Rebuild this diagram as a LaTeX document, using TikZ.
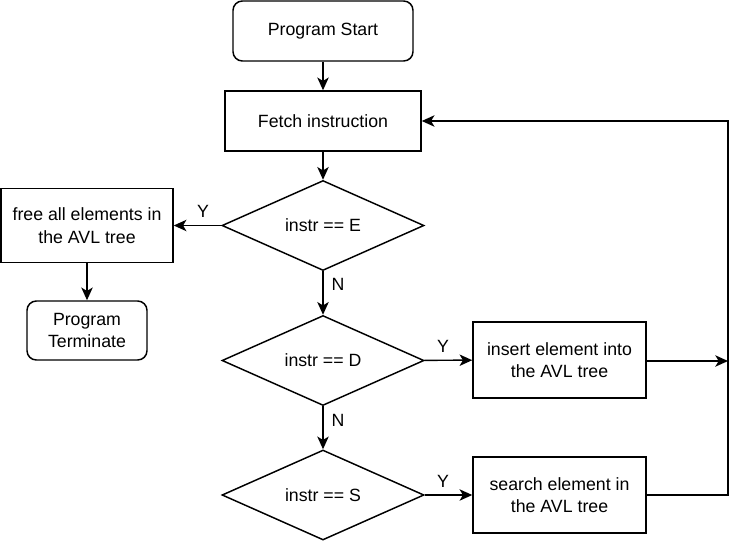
\documentclass[tikz,border=0pt]{standalone}
\usepackage{fontspec}
\setmainfont{Liberation Sans}
\usetikzlibrary{shapes.geometric,arrows.meta}
\tikzset{
  every node/.style={font=\fontsize{13.3pt}{16.8pt}\selectfont, inner sep=0pt},
  base/.style={draw=black, line width=1.1pt, align=center, fill=white},
  term/.style={base, rectangle, rounded corners=7pt},
  proc/.style={base, rectangle},
  dec/.style={base, diamond, shape aspect=2.244},
  lbl/.style={},
  conn/.style={line width=1.1pt, -{Stealth[length=9.5pt,width=8.5pt,inset=2.5pt]}},
  wire/.style={line width=1.1pt}
}
\begin{document}
\begin{tikzpicture}[x=0.75pt,y=-0.75pt]
\useasboundingbox (0,0) rectangle (741,543);
\node[term, minimum width=135pt, minimum height=45pt] (start) at (323,31) {Program Start};
\node[proc, minimum width=147pt, minimum height=45pt] (fetch) at (323,121) {Fetch instruction};
\node[dec, minimum width=151.5pt, minimum height=67.5pt] (dE) at (323,225.5) {instr == E};
\node[proc, minimum width=129pt, minimum height=55.5pt] (free) at (87,225.5) {free all elements in\\the AVL tree};
\node[term, minimum width=90pt, minimum height=44.25pt] (termi) at (87,330.5) {Program\\Terminate};
\node[dec, minimum width=151.5pt, minimum height=67.5pt] (dD) at (323,360.5) {instr == D};
\node[proc, minimum width=129.75pt, minimum height=57pt] (ins) at (559.5,360) {insert element into\\the AVL tree};
\node[dec, minimum width=151.5pt, minimum height=67.5pt] (dS) at (323,495) {instr == S};
\node[proc, minimum width=129.75pt, minimum height=57pt] (srch) at (559.5,495) {search element in\\the AVL tree};
\coordinate (rb) at (728,495);
\coordinate (rt) at (728,121);
\coordinate (rm) at (728,361);
\draw[conn] (start) -- (fetch);
\draw[conn] (fetch) -- (dE);
\draw[conn] (dE) -- (free);
\draw[conn] (free) -- (termi);
\draw[conn] (dE) -- (dD);
\draw[conn] (dD) -- (ins);
\draw[conn] (dD) -- (dS);
\draw[conn] (dS) -- (srch);
\draw[conn] (ins.east |- rm) -- (rm);
\draw[conn] (srch.east) -- (rb) -- (rt) -- (fetch.east);
\node[lbl] (yE) at (203,211) {Y};
\node[lbl] (yD) at (443,346) {Y};
\node[lbl] (yS) at (443,481) {Y};
\node[lbl] (nE) at (338,284) {N};
\node[lbl] (nD) at (338,420) {N};
\end{tikzpicture}
\end{document}
